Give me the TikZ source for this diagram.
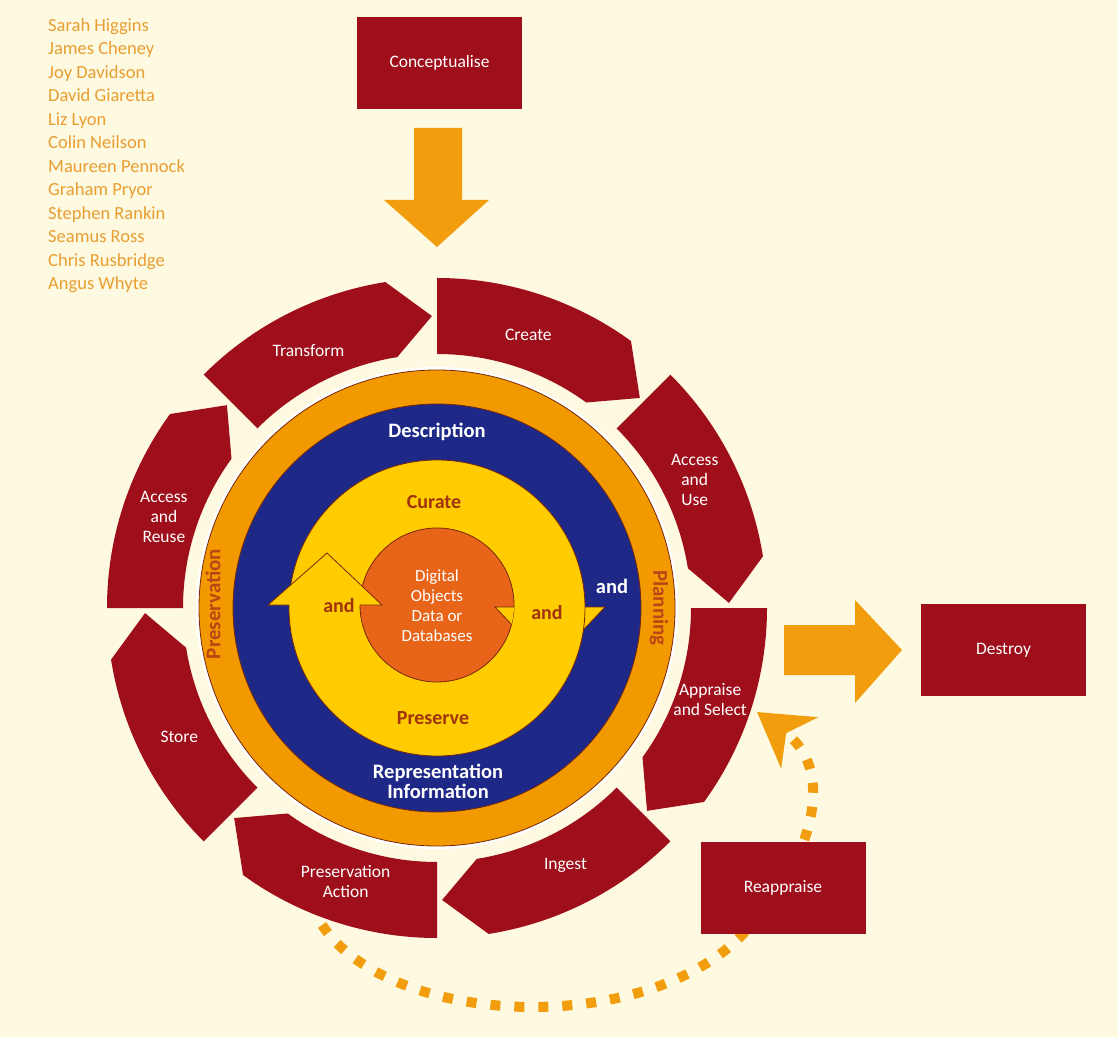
\documentclass[tikz,border=0pt]{standalone}
\usepackage{fontspec}
\setmainfont{Carlito}
\usepackage{tikz}
\usetikzlibrary{arrows.meta}
\usepackage{xcolor}

\definecolor{cream}{RGB}{254,249,225}
\definecolor{lifered}{RGB}{158,14,27}
\definecolor{ringorange}{RGB}{243,153,0}
\definecolor{arrorange}{RGB}{242,157,13}
\definecolor{ringblue}{RGB}{30,40,135}
\definecolor{ringyellow}{RGB}{255,204,0}
\definecolor{coreorange}{RGB}{232,100,25}
\definecolor{edgebrown}{RGB}{120,40,10}
\definecolor{textbrown}{RGB}{160,50,12}
\definecolor{ringtext}{RGB}{185,70,20}
\definecolor{namecol}{RGB}{233,158,50}

\tikzset{
  actionbox/.style={fill=lifered, text=white, minimum width=165pt, minimum height=92pt, font=\fontsize{17.5}{20}\selectfont},
  segment/.style={fill=lifered},
  seglabel/.style={text=white, align=center, font=\fontsize{17.5}{20}\selectfont},
  ring/.style={draw=edgebrown, line width=0.8pt},
  blocky/.style={fill=arrorange},
  innertext/.style={text=textbrown, font=\bfseries\fontsize{20}{22}\selectfont},
  whitebold/.style={text=white, align=center, font=\bfseries\fontsize{20.5}{20}\selectfont},
  dotline/.style={draw=arrorange, line width=10pt, dash pattern=on 10pt off 14pt},
}

\begin{document}
\begin{tikzpicture}[x=1pt,y=1pt]
\useasboundingbox (0,0) rectangle (1118,1037);
\fill [cream] (0,0) rectangle (1118,1037);

% authors
\node [anchor=north west, align=left, inner sep=0pt, text=namecol, font=\fontsize{18.5}{23.5}\selectfont] (authors) at (48,1019)
  {Sarah Higgins\\James Cheney\\Joy Davidson\\David Giaretta\\Liz Lyon\\Colin Neilson\\Maureen Pennock\\Graham Pryor\\Stephen Rankin\\Seamus Ross\\Chris Rusbridge\\Angus Whyte};

% conceptualise
\node [actionbox] (concept) at (439.5,974) {Conceptualise};
\fill [blocky] (414,909) -- (462,909) -- (462,837) -- (489,837) -- (437,790) -- (384,837) -- (414,837) -- cycle;

% rings
\coordinate (c) at (437,429);
\coordinate (core) at (437,432);
\fill [white] (c) circle (241);
\filldraw [ring, fill=ringorange] (c) circle (238);
\filldraw [ring, fill=ringblue] (c) circle (204);
\filldraw [ring, fill=ringyellow] (495,430) -- (605,430) -- (550,372) -- cycle;
\filldraw [ring, fill=ringyellow] (c) circle (148);
\filldraw [ring, fill=coreorange] (core) circle (77);
\begin{scope}
\clip (core) circle (77);
\filldraw [ring, fill=ringyellow] (495,430) -- (605,430) -- (550,372) -- cycle;
\end{scope}
\fill [ringyellow] (268,432) -- (327,484) -- (382,432) -- cycle;
\draw [ring] (289,432) -- (268,432) -- (327,484) -- (382,432) -- (360,432);

\node [whitebold] (descr) at (437,605) {Description};
\node [whitebold] (repinfo) at (438,256) {Representation\\Information};
\node [innertext] (curate) at (434,535) {Curate};
\node [innertext] (preserve) at (433,319) {Preserve};
\node [rotate=90, text=ringtext, font=\bfseries\fontsize{21}{22}\selectfont] (preservation) at (213,433) {Preservation};
\node [rotate=-90, text=ringtext, font=\bfseries\fontsize{21}{22}\selectfont] (planning) at (659,429) {Planning};
\node [whitebold] (andblue) at (612,451) {and};
\node [innertext] (andleft) at (339,431) {and};
\node [innertext] (andright) at (547,424) {and};
\node [text=white, align=center, font=\fontsize{17}{20}\selectfont] (objects) at (437,431) {Digital\\Objects\\Data or\\Databases};

% outer actions
\foreach \a/\nm/\txt in {90/create/Create, 45/accessuse/{Access\\and\\Use}, 0/appraise/{Appraise\\and Select}, -45/ingest/Ingest, -90/presaction/{Preservation\\Action}, -135/store/Store, 180/reuse/{Access\\and\\Reuse}, 135/transform/Transform} {
  \fill [segment, shift={(c)}] (\a:254) -- (\a:330) arc [start angle=\a, end angle=\a-36, radius=330] -- (\a-44:292) -- (\a-36:254) arc [start angle=\a-36, end angle=\a, radius=254] -- cycle;
  \node [seglabel] (\nm) at ([shift={(\a-18.5:288)}]c) {\txt};
}

% reappraise loop
\coordinate (loopstart) at (322,112);
\coordinate (looptip) at (757,325);
\draw [dotline, -{Stealth[length=52pt, width=62pt, inset=16pt]}] (loopstart) .. controls (390,10) and (640,0) .. (740,100) .. controls (810,170) and (840,265) .. (looptip);
\node [actionbox] (reappraise) at (783,149.5) {Reappraise};

% destroy
\fill [blocky] (784,362) -- (855,362) -- (855,334) -- (902,387) -- (855,437) -- (855,412) -- (784,412) -- cycle;
\node [actionbox] (destroy) at (1003.5,387) {Destroy};

\end{tikzpicture}
\end{document}
